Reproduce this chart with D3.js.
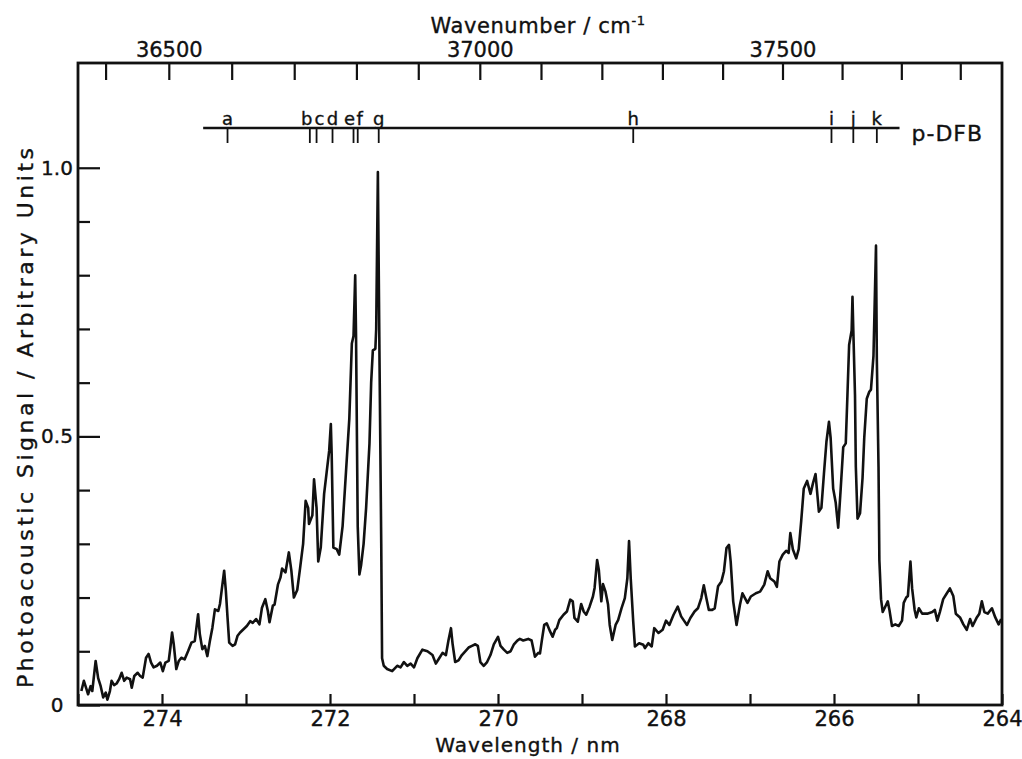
<!DOCTYPE html>
<html>
<head>
<meta charset="utf-8">
<script src="https://cdn.jsdelivr.net/npm/d3@7"></script>
<style>
  body { margin: 0; background: #fff; }
  svg text { font-family: "DejaVu Sans", sans-serif; fill: #111; stroke: #111; stroke-width: 0.35px; }
</style>
</head>
<body>
<svg id="chart" width="1022" height="759"></svg>
<script>
// wavelength (nm) ticks on the bottom, the labelled ones
var nmTicks = [275, 274, 273, 272, 271, 270, 269, 268, 267, 266, 265, 264];
var nmLabels = [274, 272, 270, 268, 266, 264];

// wavenumber (cm-1) ticks on the top
var wnTicks = [36400, 36500, 36600, 36700, 36800, 36900, 37000, 37100, 37200, 37300, 37400, 37500, 37600, 37700, 37800];
var wnLabels = [36500, 37000, 37500];

// signal axis
var yTicks = [0, 0.1, 0.2, 0.3, 0.4, 0.5, 0.6, 0.7, 0.8, 0.9, 1.0];
var yLabels = [0, 0.5, 1.0];

// p-DFB band positions (nm)
var dfbLetters = ["a", "b", "c", "d", "e", "f", "g", "h", "i", "j", "k"];
var dfbNm = [273.22, 272.24, 272.16, 271.97, 271.72, 271.67, 271.42, 268.39, 266.03, 265.77, 265.49];
var dfbSpan = [273.51, 265.22];

// spectrum: [wavelength nm, signal]
var spectrum = [
  [274.96,0.026],[274.93,0.045],[274.90,0.030],[274.88,0.020],[274.85,0.035],[274.83,0.026],[274.79,0.082],[274.76,0.050],
  [274.73,0.035],[274.70,0.014],[274.67,0.023],[274.65,0.010],[274.62,0.026],[274.60,0.045],[274.57,0.037],[274.54,0.040],
  [274.51,0.048],[274.48,0.060],[274.45,0.045],[274.42,0.051],[274.38,0.048],[274.36,0.032],[274.33,0.054],[274.29,0.060],
  [274.26,0.054],[274.23,0.051],[274.19,0.088],[274.16,0.095],[274.13,0.079],[274.10,0.070],[274.06,0.073],[274.02,0.079],
  [273.99,0.063],[273.96,0.079],[273.92,0.082],[273.90,0.107],[273.88,0.135],[273.86,0.113],[273.83,0.067],[273.80,0.082],
  [273.77,0.088],[273.73,0.085],[273.69,0.100],[273.65,0.116],[273.61,0.119],[273.59,0.144],[273.57,0.169],[273.55,0.132],
  [273.52,0.104],[273.49,0.110],[273.46,0.091],[273.43,0.119],[273.40,0.144],[273.37,0.178],[273.33,0.175],[273.31,0.188],
  [273.29,0.213],[273.26,0.250],[273.24,0.213],[273.22,0.163],[273.20,0.116],[273.16,0.110],[273.13,0.113],[273.10,0.129],
  [273.07,0.135],[273.03,0.141],[272.99,0.147],[272.95,0.156],[272.92,0.153],[272.88,0.160],[272.84,0.150],[272.81,0.181],
  [272.77,0.197],[272.74,0.175],[272.72,0.154],[272.68,0.185],[272.66,0.187],[272.62,0.224],[272.59,0.237],[272.57,0.254],
  [272.53,0.247],[272.49,0.284],[272.46,0.250],[272.43,0.200],[272.39,0.214],[272.36,0.250],[272.32,0.300],[272.29,0.380],
  [272.26,0.367],[272.25,0.337],[272.21,0.353],[272.19,0.420],[272.16,0.367],[272.14,0.267],[272.11,0.293],[272.07,0.393],
  [272.04,0.433],[272.01,0.473],[271.99,0.523],[271.98,0.467],[271.96,0.293],[271.92,0.290],[271.89,0.280],[271.85,0.333],
  [271.81,0.433],[271.77,0.533],[271.74,0.673],[271.72,0.687],[271.70,0.800],[271.69,0.687],[271.67,0.333],[271.65,0.243],
  [271.63,0.260],[271.60,0.300],[271.57,0.367],[271.53,0.487],[271.51,0.600],[271.49,0.660],[271.46,0.663],[271.45,0.700],
  [271.43,0.992],[271.41,0.633],[271.39,0.300],[271.38,0.087],[271.36,0.073],[271.32,0.067],[271.26,0.063],[271.20,0.073],
  [271.16,0.070],[271.12,0.080],[271.08,0.073],[271.04,0.077],[271.00,0.070],[270.96,0.087],[270.90,0.103],[270.84,0.100],
  [270.78,0.093],[270.74,0.077],[270.70,0.087],[270.66,0.097],[270.62,0.093],[270.59,0.120],[270.56,0.143],[270.54,0.113],
  [270.51,0.080],[270.47,0.083],[270.43,0.093],[270.39,0.100],[270.35,0.107],[270.31,0.110],[270.27,0.113],[270.24,0.110],
  [270.21,0.080],[270.17,0.073],[270.13,0.080],[270.09,0.093],[270.05,0.113],[270.00,0.127],[269.97,0.110],[269.93,0.103],
  [269.89,0.097],[269.85,0.100],[269.81,0.113],[269.77,0.120],[269.74,0.123],[269.70,0.120],[269.64,0.123],[269.60,0.120],
  [269.56,0.090],[269.52,0.097],[269.50,0.096],[269.48,0.118],[269.45,0.149],[269.42,0.152],[269.38,0.137],[269.35,0.127],
  [269.32,0.140],[269.30,0.143],[269.27,0.158],[269.22,0.168],[269.18,0.174],[269.14,0.196],[269.11,0.193],[269.09,0.162],
  [269.05,0.155],[269.01,0.188],[268.98,0.174],[268.95,0.168],[268.91,0.183],[268.87,0.202],[268.85,0.218],[268.82,0.270],
  [268.80,0.252],[268.77,0.193],[268.75,0.225],[268.72,0.211],[268.69,0.187],[268.67,0.149],[268.64,0.121],[268.60,0.149],
  [268.57,0.158],[268.53,0.180],[268.49,0.199],[268.46,0.236],[268.44,0.305],[268.42,0.236],[268.39,0.155],[268.37,0.109],
  [268.32,0.115],[268.27,0.112],[268.25,0.106],[268.21,0.115],[268.17,0.109],[268.14,0.143],[268.09,0.134],[268.04,0.140],
  [268.00,0.157],[267.96,0.149],[267.91,0.168],[267.86,0.183],[267.82,0.165],[267.79,0.158],[267.75,0.149],[267.71,0.162],
  [267.66,0.174],[267.62,0.180],[267.58,0.199],[267.55,0.223],[267.52,0.199],[267.49,0.177],[267.45,0.177],[267.42,0.180],
  [267.38,0.221],[267.34,0.230],[267.31,0.249],[267.28,0.292],[267.25,0.298],[267.23,0.267],[267.20,0.193],[267.16,0.149],
  [267.12,0.186],[267.09,0.208],[267.06,0.199],[267.03,0.190],[266.99,0.202],[266.93,0.208],[266.88,0.211],[266.83,0.224],
  [266.79,0.249],[266.76,0.236],[266.71,0.230],[266.68,0.220],[266.65,0.267],[266.61,0.280],[266.57,0.287],[266.54,0.283],
  [266.52,0.320],[266.49,0.290],[266.45,0.273],[266.42,0.290],[266.39,0.343],[266.36,0.403],[266.32,0.417],[266.28,0.393],
  [266.25,0.413],[266.22,0.430],[266.18,0.360],[266.15,0.367],[266.12,0.430],[266.09,0.490],[266.06,0.527],[266.04,0.497],
  [266.01,0.403],[265.98,0.377],[265.95,0.330],[265.92,0.403],[265.89,0.480],[265.86,0.487],[265.84,0.577],[265.82,0.670],
  [265.79,0.697],[265.78,0.760],[265.77,0.697],[265.75,0.577],[265.74,0.443],[265.72,0.347],[265.69,0.357],[265.66,0.423],
  [265.64,0.497],[265.61,0.570],[265.58,0.583],[265.56,0.587],[265.53,0.650],[265.50,0.855],[265.49,0.643],[265.47,0.443],
  [265.46,0.270],[265.44,0.197],[265.42,0.173],[265.39,0.183],[265.36,0.193],[265.34,0.177],[265.31,0.147],[265.27,0.150],
  [265.23,0.147],[265.19,0.157],[265.17,0.190],[265.14,0.200],[265.12,0.203],[265.09,0.267],[265.07,0.217],[265.04,0.177],
  [265.02,0.163],[264.99,0.180],[264.95,0.170],[264.89,0.170],[264.83,0.173],[264.80,0.177],[264.77,0.157],[264.74,0.173],
  [264.70,0.197],[264.66,0.207],[264.62,0.217],[264.58,0.203],[264.55,0.170],[264.50,0.163],[264.46,0.150],[264.42,0.140],
  [264.38,0.160],[264.35,0.147],[264.30,0.163],[264.27,0.170],[264.24,0.193],[264.21,0.173],[264.17,0.170],[264.12,0.180],
  [264.08,0.163],[264.04,0.150],[264.01,0.160]
];

var plotL = 78, plotR = 1002, plotT = 63, plotB = 705;
var ink = "#111";

var x = d3.scaleLinear().domain([275, 264]).range([plotL, plotR]);
var y = d3.scaleLinear().domain([0, 1.195]).range([plotB, plotT]);
var wnShift = 4.5; // top scale sits a little right in the original

var svg = d3.select("#chart");

// frame
svg.append("rect")
  .attr("x", plotL).attr("y", plotT)
  .attr("width", plotR - plotL).attr("height", plotB - plotT)
  .attr("fill", "none").attr("stroke", ink).attr("stroke-width", 2.8);

function styleAxis(g, size) {
  g.select(".domain").remove();
  g.selectAll(".tick line").attr("stroke", ink).attr("stroke-width", 2.2);
  g.selectAll(".tick text").attr("fill", ink).style("font-size", size + "px")
    .style("font-family", '"DejaVu Sans", sans-serif');
}

// bottom axis (nm), ticks point inward
var gb = svg.append("g").attr("transform", "translate(0," + plotB + ")")
  .call(d3.axisBottom(x).tickValues(nmTicks).tickSize(-11).tickPadding(6)
    .tickFormat(function(d){ return nmLabels.indexOf(d) >= 0 ? d : ""; }));
styleAxis(gb, 21);

// top axis (wavenumber) placed through the wavelength scale
var gt = svg.append("g").attr("transform", "translate(" + wnShift + "," + plotT + ")")
  .call(d3.axisTop(x).tickValues(wnTicks.map(function(w){ return 1e7 / w; }))
    .tickSize(-17).tickPadding(6)
    .tickFormat(function(l){ var w = Math.round(1e7 / l); return wnLabels.indexOf(w) >= 0 ? w : ""; }));
styleAxis(gt, 21);

// left axis
var gl = svg.append("g").attr("transform", "translate(" + plotL + ",0)")
  .call(d3.axisLeft(y).tickValues(yTicks).tickSize(-12)
    .tickFormat(function(d){ return yLabels.indexOf(d) >= 0 ? (d === 0 ? "0" : d.toFixed(1)) : ""; }));
styleAxis(gl, 20);
gl.selectAll(".tick line").attr("x2", function(d){ return yLabels.indexOf(d) >= 0 ? 22 : 12; });
gl.selectAll(".tick text").attr("x", -21).attr("text-anchor", "middle");

// spectrum
var line = d3.line().x(function(d){ return x(d[0]); }).y(function(d){ return y(d[1]); });
svg.append("path").datum(spectrum)
  .attr("d", line)
  .attr("fill", "none").attr("stroke", ink).attr("stroke-width", 2.6)
  .attr("stroke-linejoin", "round");

// p-DFB band markers
var dfbY = 128;
var nudge = { b: -3, c: 3, e: -4, f: 2 };
svg.append("line")
  .attr("x1", x(dfbSpan[0])).attr("x2", x(dfbSpan[1]))
  .attr("y1", dfbY).attr("y2", dfbY)
  .attr("stroke", ink).attr("stroke-width", 2.6);
var marks = svg.append("g").selectAll("g").data(dfbLetters).enter().append("g");
marks.append("line")
  .attr("x1", function(d, i){ return x(dfbNm[i]); })
  .attr("x2", function(d, i){ return x(dfbNm[i]); })
  .attr("y1", dfbY).attr("y2", dfbY + 15)
  .attr("stroke", ink).attr("stroke-width", 1.8);
marks.append("text")
  .attr("x", function(d, i){ return x(dfbNm[i]) + (nudge[d] || 0); })
  .attr("y", dfbY - 3)
  .attr("text-anchor", "middle")
  .style("font-size", "18px")
  .text(function(d){ return d; });
svg.append("text")
  .attr("x", x(dfbSpan[1]) + 12).attr("y", dfbY + 13)
  .style("font-size", "22px").style("letter-spacing", "1px")
  .text("p-DFB");

// axis titles
var tt = svg.append("text")
  .attr("x", 538).attr("y", 33).attr("text-anchor", "middle")
  .style("font-size", "21px").style("letter-spacing", "0.6px")
  .text("Wavenumber / cm");
tt.append("tspan").attr("dy", -8).style("font-size", "13px").text("-1");

svg.append("text")
  .attr("x", 528).attr("y", 752).attr("text-anchor", "middle")
  .style("font-size", "20px").style("letter-spacing", "1px")
  .text("Wavelength / nm");

svg.append("text")
  .attr("transform", "translate(33,418) rotate(-90)")
  .attr("text-anchor", "middle")
  .attr("textLength", 540).attr("lengthAdjust", "spacing")
  .style("font-size", "22px")
  .text("Photoacoustic Signal / Arbitrary Units");
</script>
</body>
</html>
